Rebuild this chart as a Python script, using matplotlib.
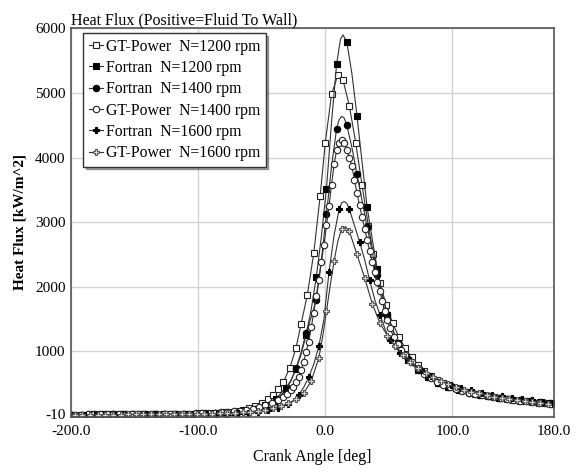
import matplotlib
matplotlib.use("Agg")
import matplotlib.pyplot as plt
import matplotlib.transforms as mtransforms

# ---- data (crank angle [deg], heat flux [kW/m^2]) ----
ang_gt1200 = [-200, -195, -190, -185, -180, -175, -170, -165, -160, -155, -150, -145, -140, -135,
              -130, -125, -120, -115, -110, -105, -100, -95, -90, -85, -80, -75, -70, -65, -60,
              -55, -50, -45, -41, -37, -33, -28, -23, -19, -14, -9, -4, 0, 5, 10, 14, 19, 24, 29,
              34, 38, 43, 48, 53, 58, 63, 68, 73, 78, 83, 88, 93, 98, 103, 108, 113, 118, 123,
              128, 133, 138, 143, 148, 153, 158, 163, 168, 173, 178]
flux_gt1200 = [22, 22, 22, 23, 23, 24, 24, 25, 25, 26, 27, 27, 28, 29,
               30, 31, 33, 34, 36, 38, 40, 44, 48, 53, 60, 69, 82, 100, 122,
               155, 200, 260, 330, 415, 525, 735, 1050, 1420, 1880, 2520, 3400, 4220, 4980, 5280,
               5200, 4800, 4230, 3570, 2940, 2500, 2060, 1720, 1440, 1220, 1050, 910, 795, 700,
               622, 558, 505, 462, 426, 395, 368, 345, 325, 307, 291, 276, 263, 250, 238, 227,
               216, 205, 194, 183]

ang_f1200 = [-199, -191, -183, -175, -167, -159, -151, -143, -135, -127, -119, -111, -103, -95,
             -87, -79, -71, -63, -55, -47, -39, -31, -27, -23, -19, -15, -11, -7, -3, 1, 5, 9,
             12, 14, 17, 21, 25, 29, 33, 37, 41, 45, 49, 57, 65, 73, 81, 89, 97, 105, 113, 121,
             129, 137, 145, 153, 161, 169, 177]
flux_f1200 = [22, 22, 23, 23, 24, 25, 26, 27, 28, 29, 31, 33, 36, 40,
              45, 53, 65, 85, 115, 170, 265, 430, 550, 720, 950, 1260, 1650, 2150, 2780, 3520,
              4550, 5450, 5830, 5900, 5790, 5300, 4650, 3930, 3230, 2740, 2270, 1880, 1570, 1120,
              870, 710, 600, 515, 455, 405, 365, 333, 306, 283, 262, 244, 227, 211, 196]

ang_f1400 = [-199, -191, -183, -175, -167, -159, -151, -143, -135, -127, -119, -111, -103, -95,
             -87, -79, -71, -63, -55, -47, -39, -31, -27, -23, -19, -15, -11, -7, -3, 1, 5, 9,
             11, 13, 15, 17, 21, 25, 29, 33, 37, 41, 45, 49, 57, 65, 73, 81, 89, 97, 105, 113,
             121, 129, 137, 145, 153, 161, 169, 177]
flux_f1400 = [21, 21, 22, 22, 23, 24, 25, 26, 27, 28, 30, 32, 35, 38,
              43, 50, 60, 77, 105, 150, 235, 400, 540, 740, 980, 1290, 1530, 1800, 2420, 3120,
              3870, 4450, 4590, 4640, 4610, 4500, 4160, 3740, 3330, 2930, 2540, 2180, 1860, 1570,
              1130, 875, 715, 600, 515, 452, 402, 362, 330, 303, 280, 260, 242, 225, 209, 194]

ang_gt1400 = [-197, -192, -187, -182, -177, -172, -167, -162, -157, -152, -147, -142, -137, -132,
              -127, -122, -117, -112, -107, -102, -97, -92, -87, -82, -77, -72, -67, -62, -57,
              -52, -47, -42, -37, -33, -30, -27, -25, -23, -21, -19, -17, -15, -13, -11, -9, -7,
              -5, -3, -1, 1, 3, 5, 7, 9, 11, 13, 15, 17, 19, 21, 23, 25, 27, 29, 31, 33, 35, 37,
              39, 41, 43, 45, 47, 49, 51, 54, 57, 60, 63, 68, 73, 78, 83, 88, 93, 98, 103, 108,
              113, 118, 123, 128, 133, 138, 143, 148, 153, 158, 163, 168, 173, 178]
flux_gt1400 = [22, 22, 23, 23, 24, 24, 25, 25, 26, 26, 27, 28, 29, 30,
               31, 32, 34, 35, 37, 39, 42, 46, 50, 56, 63, 73, 84, 95, 115,
               140, 170, 200, 245, 290, 340, 395, 450, 530, 610, 710, 840, 990, 1150, 1370, 1600,
               1860, 2100, 2380, 2650, 2950, 3250, 3580, 3900, 4110, 4230, 4270, 4230, 4120, 4000,
               3870, 3650, 3450, 3260, 3080, 2900, 2730, 2550, 2390, 2230, 2080, 1930, 1780, 1620,
               1480, 1360, 1220, 1110, 1020, 945, 830, 735, 655, 588, 533, 487, 448, 415, 386,
               361, 339, 319, 302, 286, 272, 259, 247, 236, 225, 214, 204, 194, 184]

ang_f1600 = [-197, -189, -181, -173, -165, -157, -149, -141, -133, -125, -117, -109, -101, -93,
             -85, -77, -69, -61, -53, -45, -37, -29, -25, -21, -17, -13, -9, -5, -1, 3, 7, 11,
             13, 15, 17, 19, 23, 27, 31, 35, 39, 43, 47, 51, 59, 67, 75, 83, 91, 99, 107, 115,
             123, 131, 139, 147, 155, 163, 171, 179]
flux_f1600 = [20, 20, 21, 21, 22, 22, 23, 24, 25, 26, 27, 28, 30, 32,
              35, 38, 43, 50, 62, 85, 120, 180, 230, 320, 440, 600, 800, 1080, 1500, 2230, 2800,
              3200, 3300, 3320, 3290, 3200, 2950, 2700, 2420, 2100, 1800, 1570, 1350, 1180, 980,
              830, 710, 620, 545, 483, 435, 395, 360, 330, 305, 282, 261, 242, 224, 207]

ang_gt1600 = [-197, -191, -185, -179, -173, -167, -161, -155, -149, -143, -137, -131, -125, -119,
              -113, -107, -101, -95, -89, -83, -77, -71, -65, -59, -53, -47, -41, -35, -29, -23,
              -17, -11, -5, -2, 1, 4, 7, 10, 13, 16, 19, 22, 25, 31, 37, 43, 49, 55, 61, 67, 73,
              79, 85, 91, 97, 103, 109, 115, 121, 127, 133, 139, 145, 151, 157, 163, 169, 175]
flux_gt1600 = [20, 20, 20, 21, 21, 22, 22, 23, 23, 24, 25, 26, 27, 28,
               29, 31, 33, 35, 38, 41, 45, 51, 58, 68, 82, 100, 122, 152, 195, 260,
               350, 540, 900, 1230, 1620, 2030, 2400, 2710, 2900, 2930, 2860, 2680, 2500, 2140,
               1740, 1440, 1240, 1080, 950, 840, 745, 665, 597, 538, 488, 445, 408, 376, 348, 323,
               301, 281, 263, 247, 232, 218, 204, 190]

prog_labels = ["GT-Power", "Fortran", "Fortran", "GT-Power", "Fortran", "GT-Power"]
rpm_labels = ["N=1200 rpm", "N=1200 rpm", "N=1400 rpm", "N=1400 rpm", "N=1600 rpm", "N=1600 rpm"]

x_ticks = [-200, -100, 0, 100, 180]
x_ticklabels = ["-200.0", "-100.0", "0.0", "100.0", "180.0"]
y_ticks = [-10, 1000, 2000, 3000, 4000, 5000, 6000]
y_ticklabels = ["-10", "1000", "2000", "3000", "4000", "5000", "6000"]

plt.rcParams['font.family'] = ['Liberation Serif', 'DejaVu Serif']

fig = plt.figure(figsize=(5.81, 4.73), dpi=100)
ax = fig.add_axes([0.1222, 0.1192, 0.8313, 0.8208])

series = [
    (ang_gt1200, flux_gt1200, dict(marker='s', mfc='white', mec='#222222'), None),
    (ang_f1200, flux_f1200, dict(marker='s', mfc='black', mec='black'), (8, 1)),
    (ang_f1400, flux_f1400, dict(marker='o', mfc='black', mec='black'), (8, 1)),
    (ang_gt1400, flux_gt1400, dict(marker='o', mfc='white', mec='#222222'), None),
    (ang_f1600, flux_f1600, dict(marker='P', mfc='black', mec='black'), (8, 3)),
    (ang_gt1600, flux_gt1600, dict(marker='P', mfc='#d8d8d8', mec='#555555'), (6, 1)),
]

for (a, f, mk, grid), prog, rpm in zip(series, prog_labels, rpm_labels):
    if grid is None:
        every = None
    else:
        step, off = grid
        every = [i for i, v in enumerate(a) if (v - off) % step == 0]
    ax.plot(a, f, color='#333333', lw=0.8, ms=4.6, mew=0.8, markevery=every,
            label=prog + "  " + rpm, **mk)

ax.set_xlim(-200, 180)
ax.set_ylim(-10, 6000)
ax.set_xticks(x_ticks)
ax.set_xticklabels(x_ticklabels)
ax.set_yticks(y_ticks)
ax.set_yticklabels(y_ticklabels)
ax.tick_params(length=0, labelsize=11)
ax.tick_params(axis='x', pad=6)
ax.tick_params(axis='y', pad=4)
ax.grid(True, color='#d4d4d4', lw=1)
ax.set_axisbelow(True)
for s in ax.spines.values():
    s.set_color('#555555')
    s.set_linewidth(1.2)

# the bottom y label sits a little higher so it clears the x labels
lab = ax.get_yticklabels()[0]
lab.set_transform(lab.get_transform() + mtransforms.ScaledTranslation(0, 3 / 100, fig.dpi_scale_trans))

ax.set_title("Heat Flux (Positive=Fluid To Wall)", loc='left', fontsize=11.5, pad=3)
ax.set_xlabel("Crank Angle [deg]", fontsize=11.5, labelpad=8)
ax.set_ylabel("Heat Flux [kW/m^2]", fontsize=11, fontweight='bold', labelpad=6)

leg = ax.legend(loc='upper left', bbox_to_anchor=(0.025, 0.988), borderaxespad=0,
                fontsize=11.3, handlelength=0.9, handletextpad=0.2, labelspacing=0.34,
                fancybox=False, shadow=True, framealpha=1, edgecolor='#333333',
                borderpad=0.35)
leg.get_frame().set_linewidth(1.0)

fig.savefig("out.png", dpi=100, facecolor='white')
